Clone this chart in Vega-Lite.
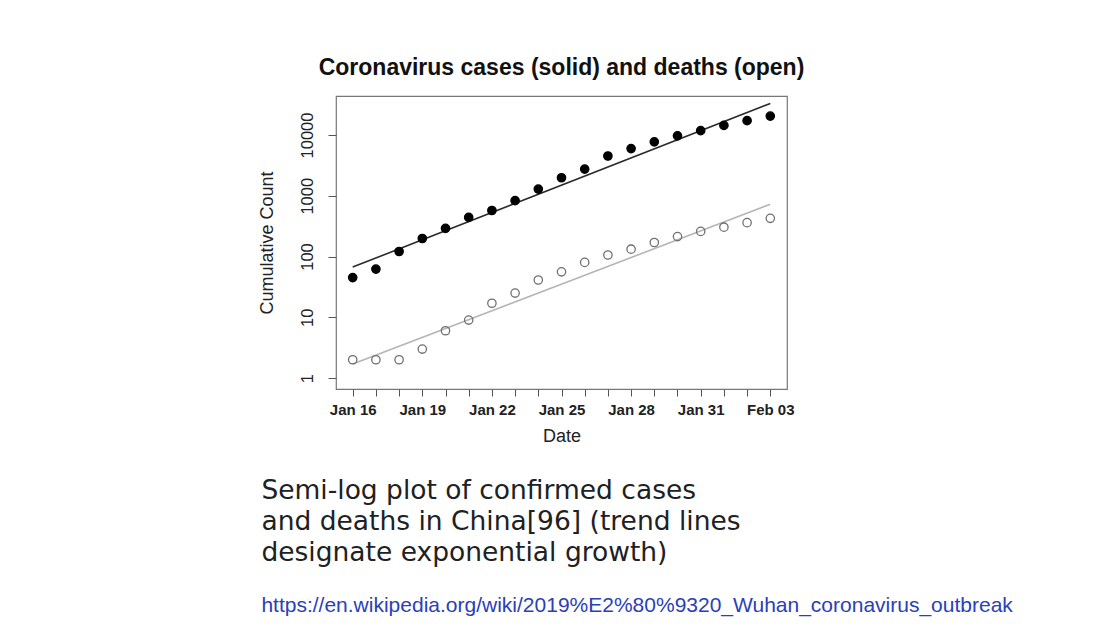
{
  "$schema": "https://vega.github.io/schema/vega-lite/v6.json",
  "background": "white",
  "padding": {"left": 257, "top": 56, "right": 5, "bottom": 5},
  "config": {"font": "Liberation Sans", "view": {"stroke": null}},
  "title": {
    "text": ["Semi-log plot of confirmed cases", "and deaths in China[96] (trend lines", "designate exponential growth)"],
    "subtitle": "https://en.wikipedia.org/wiki/2019%E2%80%9320_Wuhan_coronavirus_outbreak",
    "orient": "bottom", "anchor": "start", "frame": "bounds",
    "font": "DejaVu Sans", "fontSize": 26.5, "fontWeight": "normal", "color": "#202122", "lineHeight": 31,
    "subtitleFont": "Liberation Sans", "subtitleFontSize": 21, "subtitleColor": "#2a40b8", "subtitlePadding": 29,
    "offset": 32, "dx": 4
  },
  "datasets": {
    "points": [
      {"date": "2020-01-16", "series": "Cases", "count": 45},
      {"date": "2020-01-17", "series": "Cases", "count": 62},
      {"date": "2020-01-18", "series": "Cases", "count": 121},
      {"date": "2020-01-19", "series": "Cases", "count": 198},
      {"date": "2020-01-20", "series": "Cases", "count": 291},
      {"date": "2020-01-21", "series": "Cases", "count": 440},
      {"date": "2020-01-22", "series": "Cases", "count": 571},
      {"date": "2020-01-23", "series": "Cases", "count": 830},
      {"date": "2020-01-24", "series": "Cases", "count": 1287},
      {"date": "2020-01-25", "series": "Cases", "count": 1975},
      {"date": "2020-01-26", "series": "Cases", "count": 2744},
      {"date": "2020-01-27", "series": "Cases", "count": 4515},
      {"date": "2020-01-28", "series": "Cases", "count": 5974},
      {"date": "2020-01-29", "series": "Cases", "count": 7711},
      {"date": "2020-01-30", "series": "Cases", "count": 9692},
      {"date": "2020-01-31", "series": "Cases", "count": 11791},
      {"date": "2020-02-01", "series": "Cases", "count": 14380},
      {"date": "2020-02-02", "series": "Cases", "count": 17205},
      {"date": "2020-02-03", "series": "Cases", "count": 20438},
      {"date": "2020-01-16", "series": "Deaths", "count": 2},
      {"date": "2020-01-17", "series": "Deaths", "count": 2},
      {"date": "2020-01-18", "series": "Deaths", "count": 2},
      {"date": "2020-01-19", "series": "Deaths", "count": 3},
      {"date": "2020-01-20", "series": "Deaths", "count": 6},
      {"date": "2020-01-21", "series": "Deaths", "count": 9},
      {"date": "2020-01-22", "series": "Deaths", "count": 17},
      {"date": "2020-01-23", "series": "Deaths", "count": 25},
      {"date": "2020-01-24", "series": "Deaths", "count": 41},
      {"date": "2020-01-25", "series": "Deaths", "count": 56},
      {"date": "2020-01-26", "series": "Deaths", "count": 80},
      {"date": "2020-01-27", "series": "Deaths", "count": 106},
      {"date": "2020-01-28", "series": "Deaths", "count": 132},
      {"date": "2020-01-29", "series": "Deaths", "count": 170},
      {"date": "2020-01-30", "series": "Deaths", "count": 213},
      {"date": "2020-01-31", "series": "Deaths", "count": 259},
      {"date": "2020-02-01", "series": "Deaths", "count": 304},
      {"date": "2020-02-02", "series": "Deaths", "count": 361},
      {"date": "2020-02-03", "series": "Deaths", "count": 425}
    ],
    "trend": [
      {"date": "2020-01-16", "series": "Cases", "count": 67},
      {"date": "2020-02-03", "series": "Cases", "count": 33000},
      {"date": "2020-01-16", "series": "Deaths", "count": 1.7},
      {"date": "2020-02-03", "series": "Deaths", "count": 723}
    ]
  },
  "vconcat": [
    {
      "width": 451,
      "height": 293,
      "view": {"stroke": "#777777", "strokeWidth": 1.2},
      "title": {
        "text": "Coronavirus cases (solid) and deaths (open)",
        "font": "Liberation Sans", "fontSize": 23, "fontWeight": "bold", "color": "#111111",
        "anchor": "middle", "frame": "group", "offset": 16
      },
      "encoding": {
        "x": {
          "field": "date", "type": "temporal",
          "scale": {"type": "utc", "domain": [
            {"year": 2020, "month": 1, "date": 15, "hours": 6, "minutes": 43, "utc": true},
            {"year": 2020, "month": 2, "date": 3, "hours": 17, "minutes": 17, "utc": true}
          ]},
          "axis": {
            "title": "Date", "titleFontSize": 18, "titleFontWeight": "normal", "titleColor": "#222222",
            "titlePadding": 10, "labelFontSize": 15, "labelFontWeight": "bold", "labelColor": "#222222",
            "labelPadding": 6, "tickCount": {"interval": "day", "step": 1}, "tickSize": 7,
            "tickColor": "#555555", "domain": false, "grid": false, "labelOverlap": false, "labelFlush": false,
            "labelExpr": "round((datum.value - 1579132800000) / 86400000) % 3 === 0 ? utcFormat(datum.value, '%b %d') : ''"
          }
        },
        "y": {
          "field": "count", "type": "quantitative",
          "scale": {"type": "log", "domain": [0.66, 43800], "nice": false},
          "axis": {
            "title": "Cumulative Count", "values": [1, 10, 100, 1000, 10000], "format": "d",
            "labelAngle": 270, "labelFontSize": 16.5, "labelColor": "#222222", "labelPadding": 13,
            "tickSize": 8, "tickColor": "#555555", "domain": false, "grid": false,
            "titleFontSize": 18, "titleFontWeight": "normal", "titleColor": "#222222", "titlePadding": 23
          }
        }
      },
      "layer": [
        {
          "data": {"name": "trend"},
          "mark": {"type": "line", "strokeWidth": 1.6},
          "encoding": {
            "stroke": {"field": "series", "type": "nominal",
              "scale": {"domain": ["Cases", "Deaths"], "range": ["#2a2a2a", "#b5b5b5"]}, "legend": null}
          }
        },
        {
          "data": {"name": "points"},
          "mark": {"type": "point", "shape": "circle", "filled": true, "size": 70, "strokeWidth": 1.3, "opacity": 1},
          "encoding": {
            "fill": {"field": "series", "type": "nominal",
              "scale": {"domain": ["Cases", "Deaths"], "range": ["#000000", "transparent"]}, "legend": null},
            "stroke": {"field": "series", "type": "nominal",
              "scale": {"domain": ["Cases", "Deaths"], "range": ["#000000", "#707070"]}, "legend": null}
          }
        }
      ],
      "resolve": {"scale": {"stroke": "independent"}}
    }
  ]
}
